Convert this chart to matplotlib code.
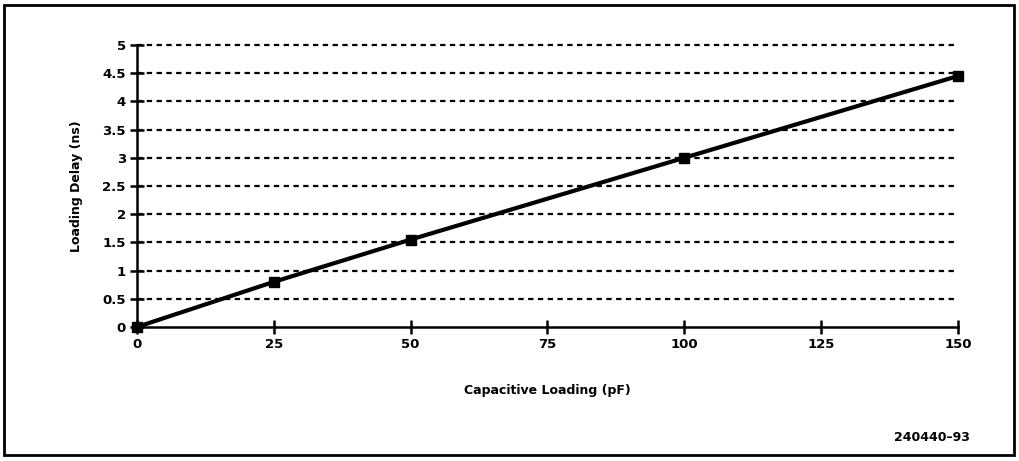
import matplotlib.pyplot as plt
from matplotlib.patches import Rectangle

# capacitive loading (pF) vs loading delay (ns)
load_pf = [0, 25, 50, 100, 150]
delay_ns = [0, 0.8, 1.55, 3.0, 4.45]
x_ticks = [0, 25, 50, 75, 100, 125, 150]
y_ticks = [0, 0.5, 1, 1.5, 2, 2.5, 3, 3.5, 4, 4.5, 5]
y_labels = ['0', '0.5', '1', '1.5', '2', '2.5', '3', '3.5', '4', '4.5', '5']

plt.rcParams['font.family'] = ['DejaVu Sans']
plt.rcParams['font.weight'] = 'bold'

fig = plt.figure(figsize=(10.19, 4.61), dpi=100)
ax = fig.add_axes([0.1344, 0.2907, 0.8057, 0.6117])

# dashed horizontal grid
for yv in y_ticks[1:]:
    ax.axhline(yv, color='black', lw=1.6, ls=(0, (2.4, 2.0)), zorder=1, clip_on=False)

ax.plot(load_pf, delay_ns, color='black', lw=3, marker='s', ms=7, zorder=3, clip_on=False)

ax.set_xlim(0, 150)
ax.set_ylim(0, 5)
ax.set_xticks(x_ticks)
ax.set_yticks(y_ticks)
ax.set_yticklabels(y_labels)
for s in ['top', 'right']:
    ax.spines[s].set_visible(False)
ax.spines['left'].set_linewidth(1.8)
ax.spines['bottom'].set_linewidth(1.8)
ax.tick_params(direction='inout', length=10, width=1.8, labelsize=9.5, pad=3)
for lbl in ax.get_xticklabels() + ax.get_yticklabels():
    lbl.set_fontweight('bold')

ax.set_xlabel('Capacitive Loading (pF)', fontsize=9, fontweight='bold', labelpad=24)
ax.set_ylabel('Loading Delay (ns)', fontsize=9, fontweight='bold', labelpad=14)

fig.text(0.952, 0.052, '240440\u201393', ha='right', va='center', fontsize=9, fontweight='bold')

# outer frame
fig.patches.append(Rectangle((0.004, 0.012), 0.991, 0.978, transform=fig.transFigure,
                             fill=False, edgecolor='black', lw=2))

fig.savefig('out.png', dpi=100)
